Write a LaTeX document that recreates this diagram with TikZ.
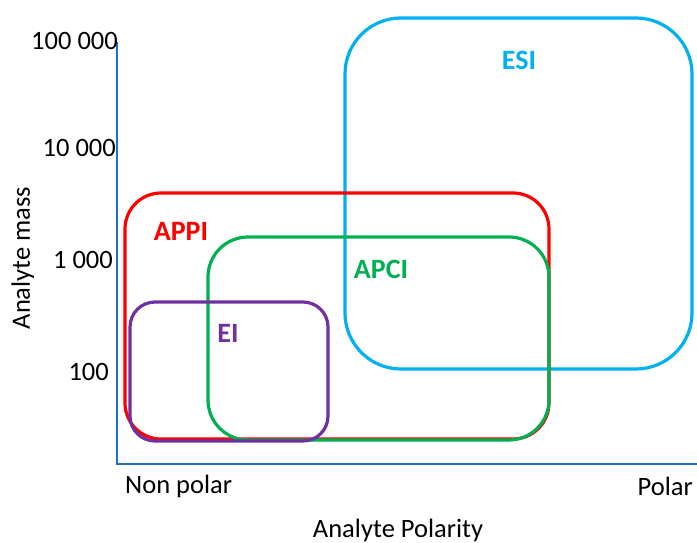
\documentclass[tikz,border=0pt]{standalone}
\usepackage{fontspec}
\setmainfont{Carlito}
\definecolor{esicol}{HTML}{00B0F0}
\definecolor{appicol}{HTML}{FF0000}
\definecolor{apcicol}{HTML}{00B050}
\definecolor{eicol}{HTML}{7030A0}
\definecolor{axiscol}{HTML}{1F70C8}
\begin{document}
\begin{tikzpicture}[x=1pt,y=-1pt,
  region/.style={draw, line width=3.2pt, inner sep=0pt, outer sep=0pt, rectangle},
  method/.style={font=\fontsize{28}{32}\selectfont\bfseries, anchor=base, inner sep=0pt},
  lbl/.style={font=\fontsize{26.5}{30}\selectfont, inner sep=0pt, text=black},
  axisline/.style={draw=axiscol, line width=2.5pt}]
\useasboundingbox (0,0) rectangle (697,543);
% regions
\node[region, draw=esicol, rounded corners=56pt, minimum width=347pt, minimum height=351pt] (esi) at (518.5,193.5) {};
\node[region, draw=appicol, rounded corners=36pt, minimum width=424pt, minimum height=246pt] (appi) at (337,316) {};
\node[region, draw=apcicol, rounded corners=40pt, minimum width=341pt, minimum height=203pt] (apci) at (378.5,338.5) {};
\node[region, draw=eicol, rounded corners=25pt, minimum width=198pt, minimum height=139pt] (ei) at (229,371.5) {};
% region labels
\node[method, text=esicol] (esilbl) at (519,70) {ESI};
\node[method, text=appicol] (appilbl) at (181,240) {APPI};
\node[method, text=apcicol] (apcilbl) at (381,278) {APCI};
\node[method, text=eicol] (eilbl) at (228,342) {EI};
% axes
\coordinate (ytop) at (117,42);
\coordinate (origin) at (117,464);
\coordinate (xend) at (697,464);
\draw[axisline, line cap=butt] (ytop) -- (origin) -- (xend);
% tick labels
\node[lbl, anchor=base east] (t5) at (118,50) {100 000};
\node[lbl, anchor=base east] (t4) at (116,157) {10 000};
\node[lbl, anchor=base east] (t3) at (113,268) {1 000};
\node[lbl, anchor=base east] (t2) at (109,380) {100};
\node[lbl, anchor=base west] (np) at (125,493) {Non polar};
\node[lbl, anchor=base east] (pol) at (693,495) {Polar};
\node[lbl, anchor=base] (xlab) at (398,537) {Analyte Polarity};
\node[lbl, anchor=base, rotate=90] (ylab) at (30,258) {Analyte mass};
\end{tikzpicture}
\end{document}
